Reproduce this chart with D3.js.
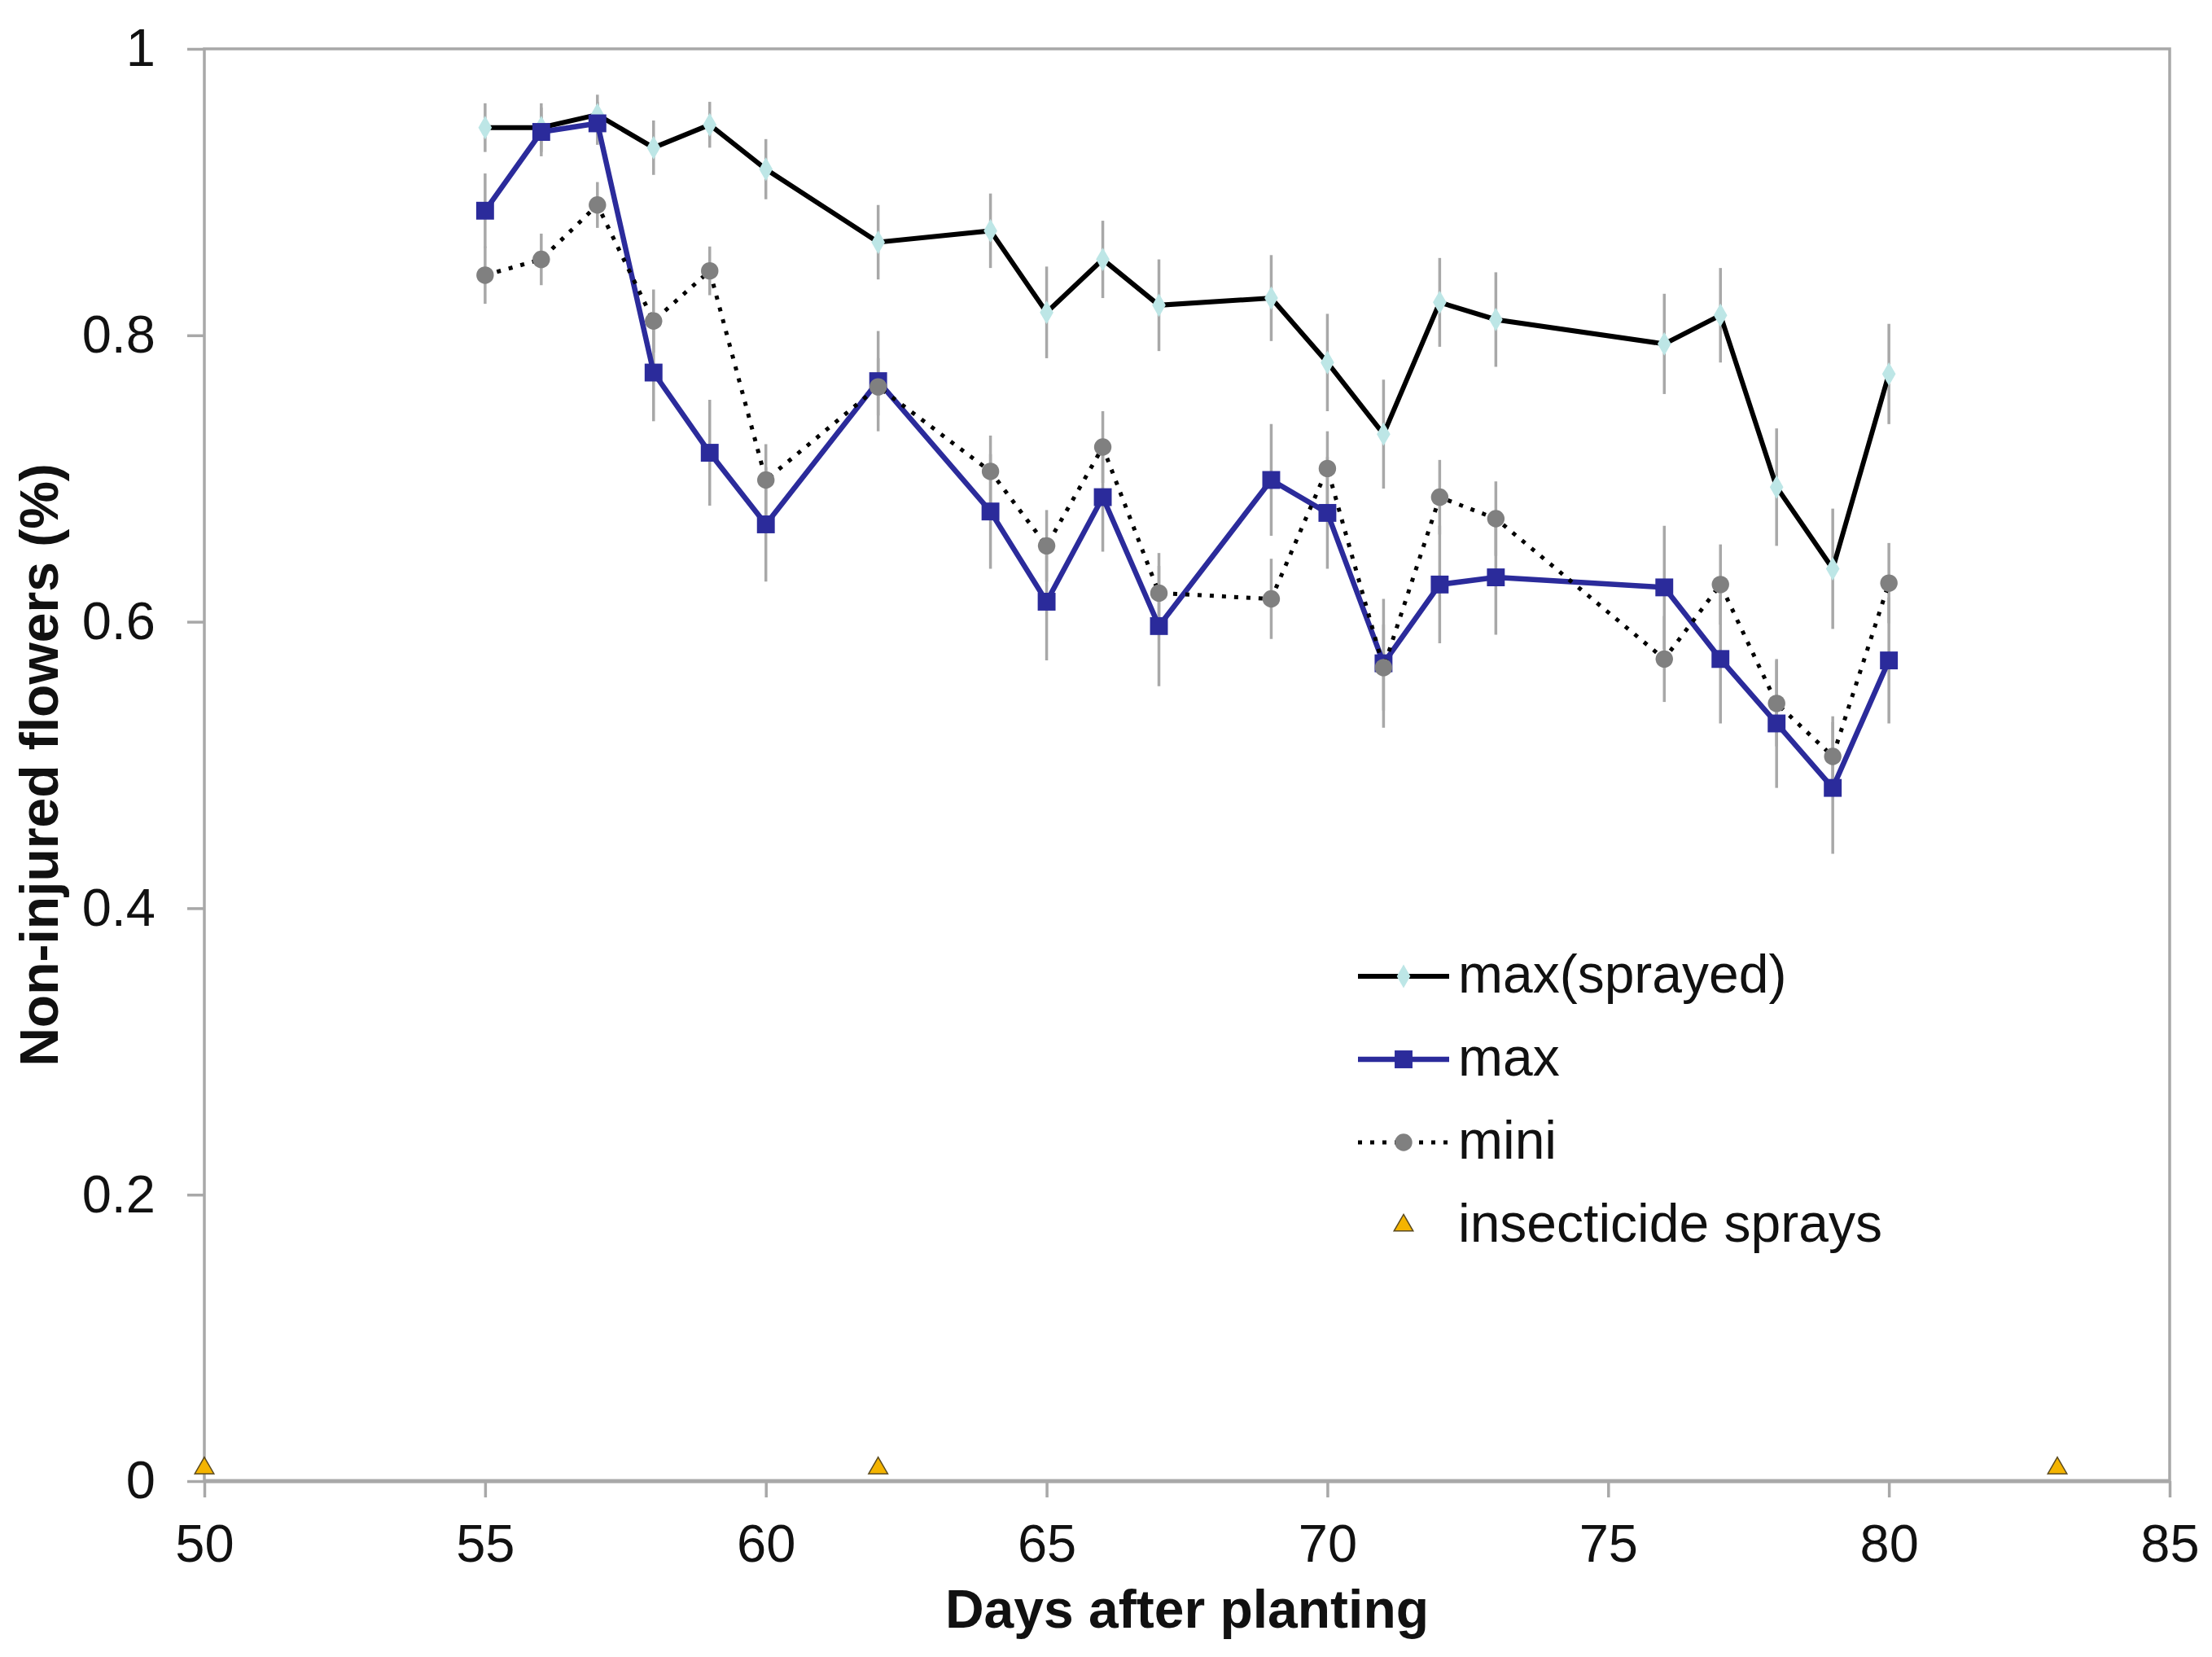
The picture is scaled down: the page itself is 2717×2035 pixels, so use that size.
<!DOCTYPE html>
<html>
<head>
<meta charset="utf-8">
<script src="https://cdn.jsdelivr.net/npm/d3@7"></script>
<style>
  body { margin: 0; background: #fff; }
  text { font-family: "Liberation Sans", Arial, sans-serif; fill: #111; }
</style>
</head>
<body>
<div id="graph"></div>
<script>
const margin = { top: 60, right: 52, bottom: 216, left: 251 };
const w = 2414; // plot width
const h = 1759; // plot height

// data
const days = [55, 56, 57, 58, 59, 60, 62, 64, 65, 66, 67, 69, 70, 71, 72, 73, 76, 77, 78, 79, 80];
const sprayed = [0.945, 0.945, 0.954, 0.931, 0.947, 0.916, 0.865, 0.873, 0.816, 0.853, 0.821, 0.826, 0.781, 0.731, 0.823, 0.811, 0.794, 0.814, 0.694, 0.637, 0.773];
const sprayedErr = [0.017, 0.017, 0.014, 0.019, 0.016, 0.021, 0.026, 0.026, 0.032, 0.027, 0.032, 0.030, 0.034, 0.038, 0.031, 0.033, 0.035, 0.033, 0.041, 0.042, 0.035];
const maxVals = [0.887, 0.942, 0.948, 0.774, 0.718, 0.668, 0.768, 0.677, 0.614, 0.687, 0.597, 0.699, 0.676, 0.571, 0.626, 0.631, 0.624, 0.574, 0.529, 0.484, 0.573];
const maxErr = [0.026, 0.017, 0.015, 0.034, 0.037, 0.040, 0.035, 0.040, 0.041, 0.038, 0.042, 0.039, 0.039, 0.045, 0.041, 0.040, 0.043, 0.045, 0.045, 0.046, 0.044];
const mini = [0.842, 0.853, 0.891, 0.810, 0.845, 0.699, 0.764, 0.705, 0.653, 0.722, 0.620, 0.616, 0.707, 0.568, 0.687, 0.672, 0.574, 0.626, 0.543, 0.506, 0.627];
const miniErr = [0.020, 0.018, 0.016, 0.022, 0.017, 0.025, 0.020, 0.025, 0.025, 0.025, 0.028, 0.028, 0.026, 0.030, 0.026, 0.026, 0.030, 0.028, 0.030, 0.028, 0.028];
const sprayDays = [50, 62, 83];
const sprayLevel = 0.009;
const xTicks = [50, 55, 60, 65, 70, 75, 80, 85];
const yTicks = [0, 0.2, 0.4, 0.6, 0.8, 1];
const legendLabels = ["max(sprayed)", "max", "mini", "insecticide sprays"];

const FONT = 65;
const GRID = "#a8a8a8";

const series = [
  { name: "max(sprayed)", values: sprayed, err: sprayedErr, stroke: "#000", width: 6, dash: null,
    symbol: d3.symbolDiamond, size: 240, fill: "#bde6e6" },
  { name: "max", values: maxVals, err: maxErr, stroke: "#2b2b9b", width: 6.5, dash: null,
    symbol: d3.symbolSquare, size: 480, fill: "#2b2b9b" },
  { name: "mini", values: mini, err: miniErr, stroke: "#000", width: 5, dash: "5 10",
    symbol: d3.symbolCircle, size: 360, fill: "#808080" },
];

const xScale = d3.scaleLinear().domain([50, 85]).range([0, w]);
const yScale = d3.scaleLinear().domain([0, 1]).range([h, 0]);

const svg = d3
  .select("#graph")
  .append("svg")
  .attr("width", w + margin.left + margin.right)
  .attr("height", h + margin.top + margin.bottom)
  .style("background", "#fff")
  .append("g")
  .attr("transform", "translate(" + margin.left + "," + margin.top + ")");

// plot frame
svg.append("rect")
  .attr("width", w)
  .attr("height", h)
  .attr("fill", "none")
  .attr("stroke", GRID)
  .attr("stroke-width", 3.5);

const xAxis = d3.axisBottom(xScale).tickValues(xTicks).tickSize(20).tickPadding(33);
const gx = svg.append("g")
  .attr("class", "x axis")
  .attr("transform", "translate(0," + h + ")")
  .call(xAxis);

const yAxis = d3.axisLeft(yScale).tickValues(yTicks).tickSize(21).tickPadding(39).tickFormat(d3.format("~g"));
const gy = svg.append("g")
  .attr("class", "y axis")
  .call(yAxis);

[gx, gy].forEach((g) => {
  g.select(".domain").remove();
  g.selectAll(".tick line").attr("stroke", GRID).attr("stroke-width", 3.5);
  g.selectAll(".tick text")
    .attr("fill", "#111")
    .style("font-size", FONT + "px")
    .style("font-family", "'Liberation Sans', Arial, sans-serif");
});

// thicker bottom axis line
svg.append("line")
  .attr("x1", 0).attr("x2", w)
  .attr("y1", h).attr("y2", h)
  .attr("stroke", GRID)
  .attr("stroke-width", 5);

// axis titles
svg.append("text")
  .attr("x", w / 2)
  .attr("y", h + 180)
  .attr("text-anchor", "middle")
  .style("font-size", "66px")
  .style("font-weight", "bold")
  .text("Days after planting");

svg.append("text")
  .attr("transform", "translate(" + (71 - margin.left) + "," + h / 2 + ") rotate(-90)")
  .attr("text-anchor", "middle")
  .style("font-size", "66px")
  .style("font-weight", "bold")
  .text("Non-injured flowers (%)");

// error bars
series.forEach((s) => {
  svg.append("g")
    .selectAll("line")
    .data(days.map((d, i) => ({ day: d, v: s.values[i], e: s.err[i] })))
    .enter()
    .append("line")
    .attr("x1", (d) => xScale(d.day))
    .attr("x2", (d) => xScale(d.day))
    .attr("y1", (d) => yScale(d.v + d.e))
    .attr("y2", (d) => yScale(d.v - d.e))
    .attr("stroke", GRID)
    .attr("stroke-width", 3.5);
});

const line = d3.line()
  .x((d) => xScale(d.day))
  .y((d) => yScale(d.v));

series.forEach((s) => {
  const pts = days.map((d, i) => ({ day: d, v: s.values[i] }));
  svg.append("path")
    .datum(pts)
    .attr("fill", "none")
    .attr("stroke", s.stroke)
    .attr("stroke-width", s.width)
    .attr("stroke-dasharray", s.dash)
    .attr("stroke-linejoin", "miter")
    .attr("d", line);

  svg.append("g")
    .selectAll("path")
    .data(pts)
    .enter()
    .append("path")
    .attr("d", d3.symbol().type(s.symbol).size(s.size))
    .attr("transform", (d) => "translate(" + xScale(d.day) + "," + yScale(d.v) + ")")
    .attr("fill", s.fill);
});

// insecticide spray markers
const tri = d3.symbol().type(d3.symbolTriangle).size(240);
svg.append("g")
  .selectAll("path")
  .data(sprayDays)
  .enter()
  .append("path")
  .attr("d", tri)
  .attr("transform", (d) => "translate(" + xScale(d) + "," + yScale(sprayLevel) + ")")
  .attr("fill", "#f4b400")
  .attr("stroke", "#5a4a20")
  .attr("stroke-width", 1.5);

// legend
const legend = svg.append("g")
  .attr("transform", "translate(" + (1668 - margin.left) + "," + (1199 - margin.top) + ")");

legendLabels.forEach((label, i) => {
  const row = legend.append("g").attr("transform", "translate(0," + i * 102 + ")");
  const s = series[i];
  if (s) {
    row.append("line")
      .attr("x1", 0).attr("x2", 112)
      .attr("y1", 0).attr("y2", 0)
      .attr("stroke", s.stroke)
      .attr("stroke-width", s.width)
      .attr("stroke-dasharray", s.dash);
    row.append("path")
      .attr("d", d3.symbol().type(s.symbol).size(s.size))
      .attr("transform", "translate(56,0)")
      .attr("fill", s.fill);
  } else {
    row.append("path")
      .attr("d", tri)
      .attr("transform", "translate(56,0)")
      .attr("fill", "#f4b400")
      .attr("stroke", "#5a4a20")
      .attr("stroke-width", 1.5);
  }
  row.append("text")
    .attr("x", 123)
    .attr("y", 0)
    .attr("dy", "0.3em")
    .style("font-size", "66px")
    .text(label);
});
</script>
</body>
</html>
